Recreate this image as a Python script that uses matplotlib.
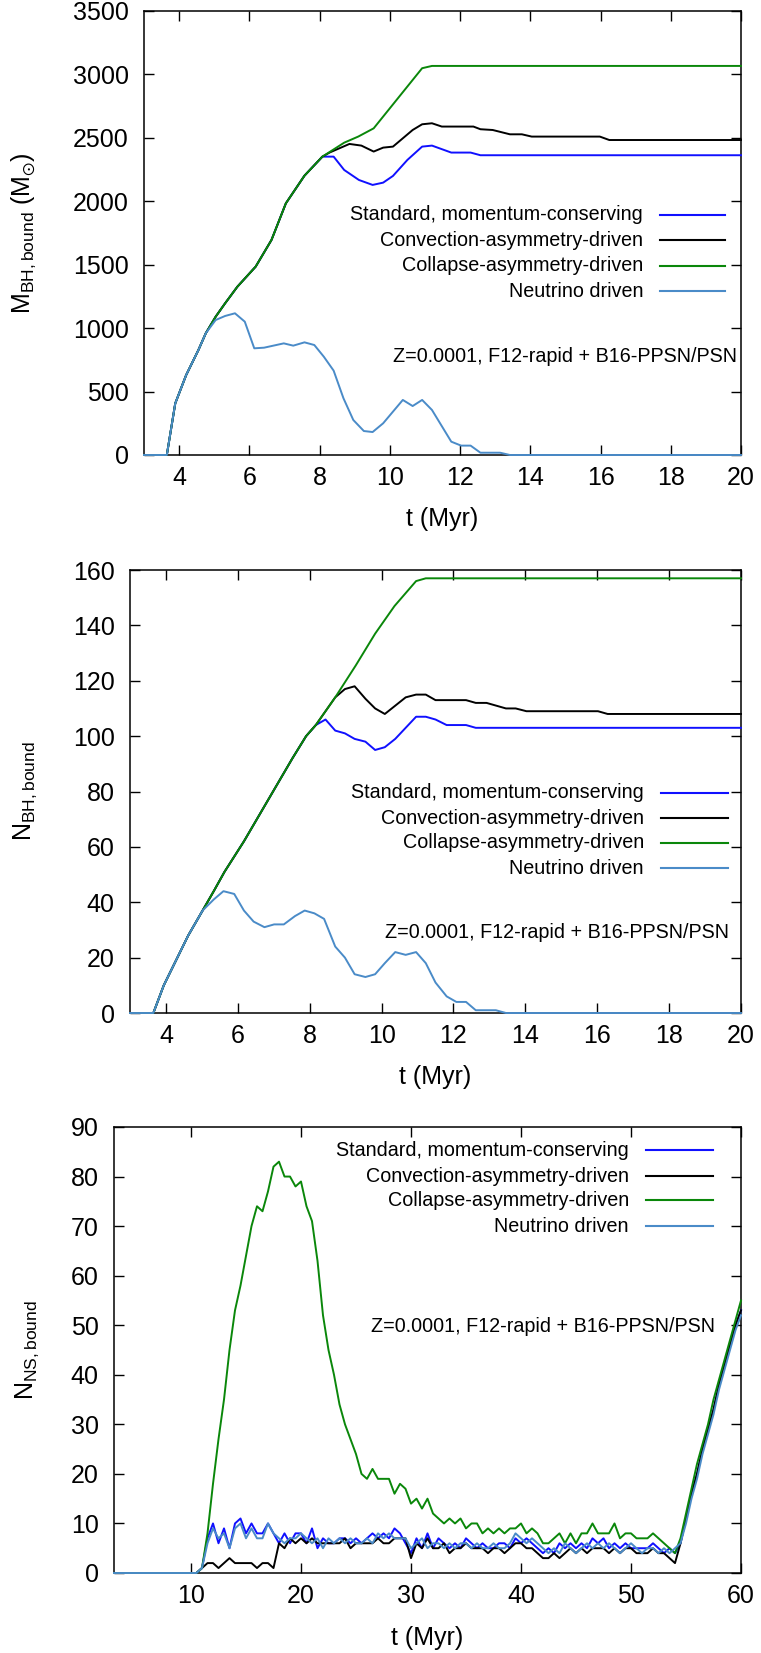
import numpy as np
import matplotlib
matplotlib.use('Agg')
import matplotlib.pyplot as plt

plt.rcParams['font.family'] = ['Liberation Sans', 'DejaVu Sans']
plt.rcParams['mathtext.fontset'] = 'custom'
plt.rcParams['mathtext.rm'] = 'Liberation Sans'
plt.rcParams['mathtext.it'] = 'Liberation Sans'
plt.rcParams['mathtext.default'] = 'regular'

labels = ['Standard, momentum-conserving', 'Convection-asymmetry-driven',
          'Collapse-asymmetry-driven', 'Neutrino driven']
colors = ['#1010ff', '#000000', '#0a870a', '#4a8bc8']
note = 'Z=0.0001, F12-rapid + B16-PPSN/PSN'

# ---- panel 1: bound BH mass (Msun) vs t (Myr)
t_m_std = [3.0, 3.65, 3.89, 4.2, 4.55, 4.76, 5.04, 5.31, 5.66, 6.18, 6.63, 7.04, 7.57, 8.08,
           8.4, 8.7, 9.12, 9.51, 9.81, 10.09, 10.5, 10.92, 11.2, 11.75, 12.3, 12.58, 20.0]
m_std = [0, 0, 407, 630, 828, 960, 1090, 1196, 1327, 1485, 1695, 1984, 2202, 2352,
         2352, 2247, 2168, 2129, 2147, 2200, 2326, 2431, 2439, 2384, 2384, 2363, 2363]

t_m_conv = [3.0, 3.65, 3.89, 4.2, 4.55, 4.76, 5.04, 5.31, 5.66, 6.18, 6.63, 7.04, 7.57, 8.08,
            8.29, 8.85, 9.19, 9.54, 9.81, 10.09, 10.65, 10.92, 11.2, 11.48, 12.38, 12.58,
            12.93, 13.42, 13.76, 14.04, 15.98, 16.25, 20.0]
m_conv = [0, 0, 407, 630, 828, 960, 1090, 1196, 1327, 1485, 1695, 1984, 2202, 2352,
          2385, 2452, 2439, 2392, 2423, 2431, 2562, 2607, 2615, 2589, 2589, 2568,
          2562, 2528, 2528, 2510, 2510, 2483, 2483]

t_m_coll = [3.0, 3.65, 3.89, 4.2, 4.55, 4.76, 5.04, 5.31, 5.66, 6.18, 6.63, 7.04, 7.57, 8.08,
            8.7, 9.1, 9.54, 10.92, 11.2, 20.0]
m_coll = [0, 0, 407, 630, 828, 960, 1090, 1196, 1327, 1485, 1695, 1984, 2202, 2352,
          2462, 2510, 2575, 3049, 3067, 3067]

t_m_nu = [3.0, 3.65, 3.89, 4.2, 4.55, 4.76, 5.04, 5.31, 5.59, 5.87, 6.14, 6.42, 6.98, 7.25,
          7.57, 7.85, 8.12, 8.4, 8.68, 8.96, 9.26, 9.51, 9.81, 10.37, 10.65, 10.92, 11.2,
          11.75, 12.03, 12.3, 12.58, 13.14, 13.42, 20.0]
m_nu = [0, 0, 407, 630, 828, 960, 1064, 1096, 1117, 1051, 841, 846, 880, 862,
        888, 867, 775, 665, 447, 276, 189, 181, 250, 434, 386, 434, 355,
        105, 74, 74, 18, 18, 0, 0]

# ---- panel 2: number of bound BHs vs t (Myr)
t_n_std = [3.0, 3.65, 3.94, 4.28, 4.62, 5.02, 5.33, 5.63, 6.17, 6.98, 7.52, 7.9, 8.17,
           8.44, 8.71, 8.98, 9.25, 9.55, 9.82, 10.09, 10.38, 10.67, 10.96, 11.23, 11.5,
           11.81, 12.35, 12.62, 20.0]
n_std = [0, 0, 10, 19, 28, 37, 44, 51, 62, 80, 92, 100, 104,
         106, 102, 101, 99, 98, 95, 96, 99, 103, 107, 107, 106,
         104, 104, 103, 103]

t_n_conv = [3.0, 3.65, 3.94, 4.28, 4.62, 5.02, 5.33, 5.63, 6.17, 6.98, 7.52, 7.9, 8.17,
            8.44, 8.71, 8.98, 9.25, 9.55, 9.82, 10.09, 10.38, 10.67, 10.96, 11.23, 11.5,
            12.35, 12.62, 12.92, 13.46, 13.73, 14.03, 16.02, 16.29, 20.0]
n_conv = [0, 0, 10, 19, 28, 37, 44, 51, 62, 80, 92, 100, 104,
          109, 114, 117, 118, 113.5, 110, 108, 111, 114, 115, 115, 113,
          113, 112, 112, 110, 110, 109, 109, 108, 108]

t_n_coll = [3.0, 3.65, 3.94, 4.28, 4.62, 5.02, 5.33, 5.63, 6.17, 6.98, 7.52, 7.9, 8.17,
            8.44, 8.71, 9.28, 9.82, 10.36, 10.96, 11.23, 20.0]
n_coll = [0, 0, 10, 19, 28, 37, 44, 51, 62, 80, 92, 100, 104,
          109, 114, 125.5, 137, 147, 156, 157, 157]

t_n_nu = [3.0, 3.65, 3.94, 4.28, 4.62, 5.02, 5.33, 5.6, 5.9, 6.17, 6.44, 6.74, 7.01, 7.28,
          7.59, 7.86, 8.13, 8.4, 8.71, 8.98, 9.25, 9.55, 9.82, 10.09, 10.38, 10.67, 10.96,
          11.23, 11.5, 11.81, 12.08, 12.35, 12.62, 13.18, 13.46, 20.0]
n_nu = [0, 0, 10, 19, 28, 37, 41, 44, 43, 37, 33, 31, 32, 32,
        35, 37, 36, 34, 24, 20, 14, 13, 14, 18, 22, 21, 22,
        18, 11, 6, 4, 4, 1, 1, 0, 0]

# ---- panel 3: number of bound NSs, sampled every 0.5 Myr from t = 10 Myr
ns_t0 = 10.0
ns_dt = 0.5
ns_std = [0, 0, 1, 7, 10, 6, 9, 5, 10, 11, 8, 10, 8, 8, 10, 8, 6, 8, 6, 8,
          8, 6, 9, 5, 7, 6, 6, 7, 7, 6, 7, 6, 7, 8, 7, 8, 7, 9, 8, 6,
          4, 7, 5, 8, 5, 7, 6, 5, 6, 5, 7, 6, 5, 6, 5, 5, 6, 6, 5, 7,
          6, 7, 6, 5, 4, 5, 4, 6, 5, 6, 5, 6, 5, 7, 6, 7, 5, 6, 5, 6,
          5, 5, 5, 5, 6, 5, 4, 5, 4, 6, 11, 16, 20, 25, 29, 33, 38, 42, 46, 50,
          53]
ns_conv = [0, 0, 1, 2, 2, 1, 2, 3, 2, 2, 2, 2, 1, 2, 2, 1, 6, 5, 7, 6,
           7, 6, 7, 6, 6, 6, 6, 6, 7, 5, 6, 6, 6, 6, 7, 6, 6, 7, 7, 7,
           3, 6, 5, 7, 5, 5, 6, 4, 5, 5, 6, 5, 5, 5, 4, 5, 5, 4, 5, 6,
           6, 5, 5, 4, 3, 3, 4, 3, 4, 5, 4, 5, 4, 5, 5, 5, 4, 5, 4, 5,
           5, 4, 4, 4, 5, 4, 4, 3, 2, 6, 11, 16, 20, 25, 29, 33, 38, 42, 46, 50,
           53]
ns_coll = [0, 0, 1, 8, 18, 27, 35, 45, 53, 58, 64, 70, 74, 73, 77, 82, 83, 80, 80, 78,
           79, 74, 71, 63, 52, 45, 40, 34, 30, 27, 24, 20, 19, 21, 19, 19, 19, 16, 18, 17,
           14, 15, 13, 15, 12, 11, 10, 11, 10, 11, 9, 10, 10, 8, 9, 8, 9, 8, 9, 9,
           10, 8, 9, 8, 6, 6, 7, 8, 6, 8, 6, 8, 8, 10, 8, 8, 8, 10, 7, 8,
           8, 7, 7, 7, 8, 7, 6, 5, 4, 7, 12, 17, 22, 26, 30, 35, 39, 43, 47, 51,
           55]
ns_nu = [0, 0, 1, 6, 9, 7, 8, 5, 9, 10, 7, 9, 7, 7, 10, 8, 7, 6, 7, 7,
         8, 7, 6, 7, 5, 7, 6, 7, 6, 7, 6, 6, 7, 6, 8, 7, 8, 7, 7, 7,
         5, 6, 7, 5, 6, 6, 5, 6, 5, 6, 6, 5, 6, 5, 5, 6, 5, 5, 6, 8,
         7, 6, 7, 6, 5, 4, 5, 4, 6, 5, 4, 5, 6, 5, 6, 5, 6, 5, 4, 5,
         6, 5, 4, 5, 5, 4, 5, 4, 5, 6, 10, 15, 19, 24, 28, 32, 37, 41, 45, 49,
         52]


def ns_time(vals):
    return np.concatenate([[3.0], ns_t0 + ns_dt * np.arange(len(vals))])


def ns_vals(vals):
    return np.concatenate([[0], vals])


W, H = 761, 1653
fig = plt.figure(figsize=(W / 100, H / 100), dpi=100)


def px_axes(left, top, right, bottom):
    return fig.add_axes([left / W, 1 - bottom / H, (right - left) / W, (bottom - top) / H])


def style(ax, xlim, xticks, ylim, yticks, ylabel, ylab_x):
    ax.set_xlim(*xlim)
    ax.set_ylim(*ylim)
    ax.set_xticks(xticks)
    ax.set_yticks(yticks)
    ax.tick_params(direction='in', length=7, width=1, top=True, right=True,
                   labelsize=18, colors='black')
    ax.tick_params(axis='x', pad=8)
    ax.tick_params(axis='y', pad=11)
    for s in ax.spines.values():
        s.set_linewidth(1.1)
    ax.set_xlabel('t (Myr)', fontsize=18)
    ax.xaxis.set_label_coords(0.5, -0.118)
    ax.set_ylabel(ylabel, fontsize=18)
    ax.yaxis.set_label_coords(ylab_x, 0.5)


def key(ax, xtext, x0, x1, ys, xnote, ynote):
    for lab, c, y in zip(labels, colors, ys):
        ax.text(xtext, y, lab, transform=ax.transAxes, ha='right', va='center',
                fontsize=14.2)
        ax.plot([x0, x1], [y, y], transform=ax.transAxes, color=c, lw=1.5)
    ax.text(xnote, ynote, note, transform=ax.transAxes, ha='right', va='center',
            fontsize=14.2)


def draw(ax, t, v, c):
    # lines sit on top of the frame so the zero segments stay visible
    ax.plot(t, v, color=c, lw=1.4, clip_on=False, zorder=3)


# panel 1
ax1 = px_axes(144, 11, 741, 455)
draw(ax1, t_m_std, m_std, colors[0])
draw(ax1, t_m_conv, m_conv, colors[1])
draw(ax1, t_m_coll, m_coll, colors[2])
draw(ax1, t_m_nu, m_nu, colors[3])
style(ax1, (3, 20), np.arange(4, 21, 2), (0, 3500), np.arange(0, 3501, 500),
      r'$M_{BH,bound}$ $(M_{\odot})$', -0.178)
key(ax1, 0.836, 0.864, 0.974, [0.541, 0.484, 0.426, 0.369], 0.993, 0.221)

# panel 2
ax2 = px_axes(130, 570, 741, 1013)
draw(ax2, t_n_std, n_std, colors[0])
draw(ax2, t_n_conv, n_conv, colors[1])
draw(ax2, t_n_coll, n_coll, colors[2])
draw(ax2, t_n_nu, n_nu, colors[3])
style(ax2, (3, 20), np.arange(4, 21, 2), (0, 160), np.arange(0, 161, 20),
      r'$N_{BH,bound}$', -0.149)
key(ax2, 0.841, 0.869, 0.979, [0.497, 0.440, 0.384, 0.327], 0.980, 0.181)

# panel 3
ax3 = px_axes(114, 1127, 741, 1573)
draw(ax3, ns_time(ns_std), ns_vals(ns_std), colors[0])
draw(ax3, ns_time(ns_conv), ns_vals(ns_conv), colors[1])
draw(ax3, ns_time(ns_coll), ns_vals(ns_coll), colors[2])
draw(ax3, ns_time(ns_nu), ns_vals(ns_nu), colors[3])
style(ax3, (3, 60), np.arange(10, 61, 10), (0, 90), np.arange(0, 91, 10),
      r'$N_{NS,bound}$', -0.116)
key(ax3, 0.821, 0.848, 0.955, [0.948, 0.890, 0.836, 0.778], 0.959, 0.553)

fig.savefig('out.png', dpi=100)
